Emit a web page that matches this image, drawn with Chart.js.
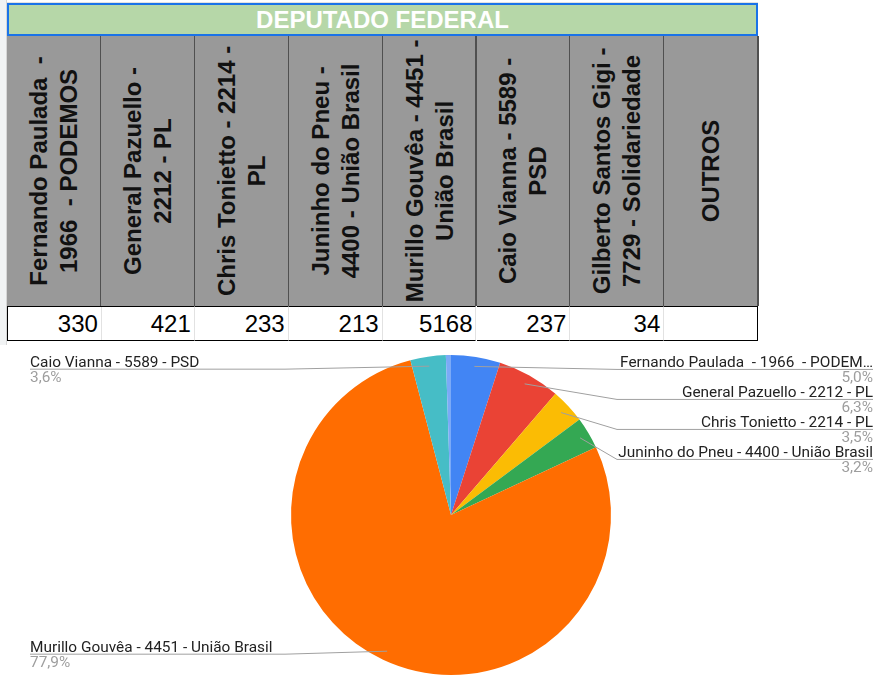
<!DOCTYPE html>
<html lang="pt-BR">
<head>
<meta charset="utf-8">
<title>Deputado Federal</title>
<script src="https://cdn.jsdelivr.net/npm/chart.js@4.4.0/dist/chart.umd.min.js"></script>
<style>
  html, body { margin: 0; padding: 0; background: #fff; }
  body { width: 880px; height: 698px; position: relative; overflow: hidden;
         font-family: "Liberation Sans", Arial, sans-serif; }
  .gutter { position: absolute; left: 0; top: 0; width: 6px; height: 345px;
            background: #f1f3f4; border-right: 1px solid #d6d6d6; }
  .toprow { position: absolute; left: 7px; top: 0; width: 751px; height: 2px;
            border-bottom: 1px solid #e2e2e2; }
  .title { position: absolute; left: 7px; top: 3px; width: 747px; height: 29px;
           background: #b6d7a8; border: 2px solid #1a73e8; color: #fff;
           font-weight: bold; font-size: 24px; line-height: 30px; text-align: center; }
  .head { position: absolute; top: 36px; height: 270px; background: #999999;
          border-right: 2px solid #505050; box-sizing: border-box; overflow: hidden; }
  .head .txt { position: absolute; width: 266px; display: flex; align-items: center;
               justify-content: center; text-align: center; white-space: pre-wrap;
               transform: rotate(-90deg); font-weight: bold; font-size: 24px;
               line-height: 30px; color: #111; }
  .val { position: absolute; top: 306px; height: 33px; border-top: 1px solid #000;
         border-bottom: 1px solid #000; border-right: 1px solid #e2e2e2;
         box-sizing: content-box; font-size: 24px; line-height: 34px;
         text-align: right; padding-right: 3px; color: #000; }
  #chartBox { position: absolute; left: 0; top: 345px; width: 880px; height: 353px; }
</style>
</head>
<body>
<div class="gutter"></div>
<div class="toprow"></div>
<div class="title">DEPUTADO FEDERAL</div>
<div id="table"></div>
<div id="chartBox"><canvas id="chart"></canvas></div>
<script>
// Data read from the sheet
const candidates = [
  "Fernando Paulada  - 1966  - PODEMOS",
  "General Pazuello - 2212 - PL",
  "Chris Tonietto - 2214 - PL",
  "Juninho do Pneu - 4400 - União Brasil",
  "Murillo Gouvêa - 4451 - União Brasil",
  "Caio Vianna - 5589 - PSD",
  "Gilberto Santos Gigi - 7729 - Solidariedade"
];
const votes = [330, 421, 233, 213, 5168, 237, 34];
const extraColumns = ["OUTROS"];
const sliceColors = ["#4285f4", "#ea4335", "#fbbc04", "#34a853", "#ff6d01", "#46bdc6", "#7baaf7"];

// Build the spreadsheet table
const table = document.getElementById("table");
const colLeft = 7, colWidth = 93.9;
const headers = candidates.concat(extraColumns);
headers.forEach((name, i) => {
    const x = colLeft + i * colWidth;
    const head = document.createElement("div");
    head.className = "head";
    head.style.left = x + "px";
    head.style.width = (colWidth + 1) + "px";
    const txt = document.createElement("div");
    txt.className = "txt";
    txt.textContent = name;
    txt.style.height = colWidth + "px";
    txt.style.left = ((colWidth - 266) / 2) + "px";
    txt.style.top = ((270 - colWidth) / 2) + "px";
    head.appendChild(txt);
    table.appendChild(head);

    const val = document.createElement("div");
    val.className = "val";
    val.style.left = x + "px";
    val.style.width = (colWidth - 4) + "px";
    if (i === 0) val.style.borderLeft = "1px solid #000";
    if (i === headers.length - 1) val.style.borderRight = "1px solid #000";
    val.textContent = i < votes.length ? votes[i] : "";
    table.appendChild(val);
});

// Callout labels like the Sheets pie chart
const calloutPlugin = {
    id: "callouts",
    afterDatasetsDraw(chart) {
        const ctx = chart.ctx;
        const meta = chart.getDatasetMeta(0);
        const total = votes.reduce((a, b) => a + b, 0);
        const right = [], left = [];
        meta.data.forEach((arc, i) => {
            const share = votes[i] / total;
            if (share < 0.01) return;
            const p = arc.getProps(["x", "y", "startAngle", "endAngle", "outerRadius"], true);
            const mid = (p.startAngle + p.endAngle) / 2;
            const item = {
                i: i, share: share, cx: p.x, r: p.outerRadius,
                ax: p.x + Math.cos(mid) * p.outerRadius * 0.94,
                ay: p.y + Math.sin(mid) * p.outerRadius * 0.94,
            };
            (Math.cos(mid) >= 0 ? right : left).push(item);
        });

        const fit = (text, maxW) => {
            if (ctx.measureText(text).width <= maxW) return text;
            let t = text;
            while (t.length && ctx.measureText(t + "…").width > maxW) t = t.slice(0, -1);
            return t + "…";
        };

        ctx.save();
        [[right, 1], [left, -1]].forEach(([items, side]) => {
            items.sort((a, b) => a.ay - b.ay);
            let prev = -Infinity;
            items.forEach((it) => {
                const ly = Math.max(it.ay + 3, prev + 30);
                prev = ly;
                const kx = it.cx + side * (it.r + 6);
                const ex = side > 0 ? chart.width - 7 : 30;
                ctx.strokeStyle = "#a0a0a0";
                ctx.lineWidth = 1;
                ctx.beginPath();
                ctx.moveTo(it.ax, it.ay);
                ctx.lineTo(kx, ly);
                ctx.lineTo(ex, ly);
                ctx.stroke();

                ctx.font = "15.4px Roboto";
                ctx.textAlign = side > 0 ? "right" : "left";
                ctx.textBaseline = "alphabetic";
                ctx.fillStyle = "#222";
                ctx.fillText(fit(candidates[it.i], Math.abs(ex - kx) + 4), ex, ly - 2);
                ctx.fillStyle = "#9e9e9e";
                const pct = (it.share * 100).toFixed(1).replace(".", ",") + "%";
                ctx.fillText(pct, ex, ly + 13);
            });
        });
        ctx.restore();
    }
};

const chart = new Chart(document.getElementById("chart").getContext("2d"), {
    type: "pie",
    data: {
        labels: candidates,
        datasets: [{
            data: votes,
            backgroundColor: sliceColors,
            borderWidth: 0,
        }],
    },
    options: {
        responsive: true,
        maintainAspectRatio: false,
        animation: false,
        layout: { padding: { top: 10, bottom: 23, left: 22, right: 0 } },
        plugins: {
            legend: { display: false },
            tooltip: { enabled: true },
        },
    },
    plugins: [calloutPlugin],
});
</script>
</body>
</html>
